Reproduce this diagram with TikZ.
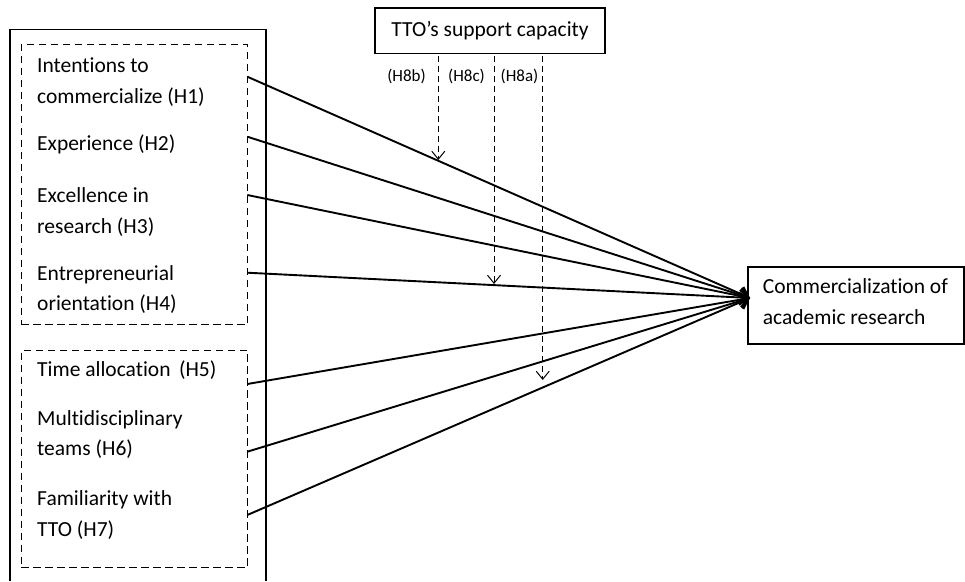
\documentclass[tikz,border=0pt]{standalone}
\usepackage{fontspec}
\setmainfont{Carlito}[Ligatures={NoCommon}]
\usetikzlibrary{arrows.meta}
\begin{document}
\begin{tikzpicture}[x=1pt,y=-1pt,
  txt/.style={anchor=base west, inner sep=0pt, font=\fontsize{21.5}{26}\selectfont},
  lbl/.style={anchor=base, inner sep=0pt, font=\fontsize{17}{20}\selectfont},
  solidbox/.style={draw, line width=1.8pt, inner sep=0pt},
  groupbox/.style={draw, line width=1.1pt, dash pattern=on 7.5pt off 4.5pt, inner sep=0pt},
  effect/.style={line width=1.9pt, -{Straight Barb[length=9pt,width=15pt,line width=1.9pt]}},
  moderation/.style={line width=1pt, dash pattern=on 6pt off 4pt,
    -{Straight Barb[length=8pt,width=13pt,line width=1pt]}}
]
\useasboundingbox (0,0) rectangle (965,581);

% outer frame holding both groups of determinants (open at the bottom)
\draw[line width=1.8pt] (10,581) -- (10,29.5) -- (265.7,29.5) -- (265.7,581);

% grouped determinants
\node[groupbox, minimum width=226.6pt, minimum height=279.7pt, anchor=north west] (grpA) at (20.7,44.3) {};
\node[groupbox, minimum width=226.6pt, minimum height=216.7pt, anchor=north west] (grpB) at (20.7,350) {};

\node[txt] (h1a) at (37,72.7) {Intentions to};
\node[txt] (h1b) at (37,103.5) {commercialize (H1)};
\node[txt] (h2)  at (37,150) {Experience (H2)};
\node[txt] (h3a) at (37,202.7) {Excellence in};
\node[txt] (h3b) at (37,233.5) {research (H3)};
\node[txt] (h4a) at (37,280) {Entrepreneurial};
\node[txt] (h4b) at (37,310.5) {orientation (H4)};
\node[txt] (h5)  at (37,376.7) {Time allocation\, (H5)};
\node[txt] (h6a) at (37,425) {Multidisciplinary};
\node[txt] (h6b) at (37,455.5) {teams (H6)};
\node[txt] (h7a) at (37,505) {Familiarity with};
\node[txt] (h7b) at (37,536.5) {TTO (H7)};

% moderator and outcome
\node[solidbox, minimum width=230pt, minimum height=45.2pt,
      font=\fontsize{21.5}{26}\selectfont] (tto) at (490,30.9) {TTO’s support capacity};
\node[solidbox, minimum width=216.3pt, minimum height=76.7pt, anchor=north west] (outc) at (746.7,266) {};
\node[txt] (outa) at (762.7,293) {Commercialization of};
\node[txt] (outb) at (762.7,324) {academic research};

% connector end points
\coordinate (s1) at (247.3,76.7);
\coordinate (s2) at (247.3,136.7);
\coordinate (s3) at (247.3,195);
\coordinate (s4) at (247.3,272.7);
\coordinate (s5) at (247.3,384);
\coordinate (s6) at (247.3,451.7);
\coordinate (s7) at (247.3,515);
\coordinate (tgt) at (750,298);

\foreach \s in {s1,s2,s3,s4,s5,s6,s7}
  \draw[effect] (\s) -- (tgt);

% moderating effects
\coordinate (mb0) at (438.3,55.5);
\coordinate (mb1) at (438.3,160);
\coordinate (mc0) at (494,55.5);
\coordinate (mc1) at (494,284);
\coordinate (ma0) at (542.7,55.5);
\coordinate (ma1) at (542.7,380);
\draw[moderation] (mb0) -- (mb1);
\draw[moderation] (mc0) -- (mc1);
\draw[moderation] (ma0) -- (ma1);

\node[lbl] (l8b) at (406.5,81) {(H8b)};
\node[lbl] (l8c) at (466.5,81) {(H8c)};
\node[lbl] (l8a) at (519.5,81) {(H8a)};
\end{tikzpicture}
\end{document}
